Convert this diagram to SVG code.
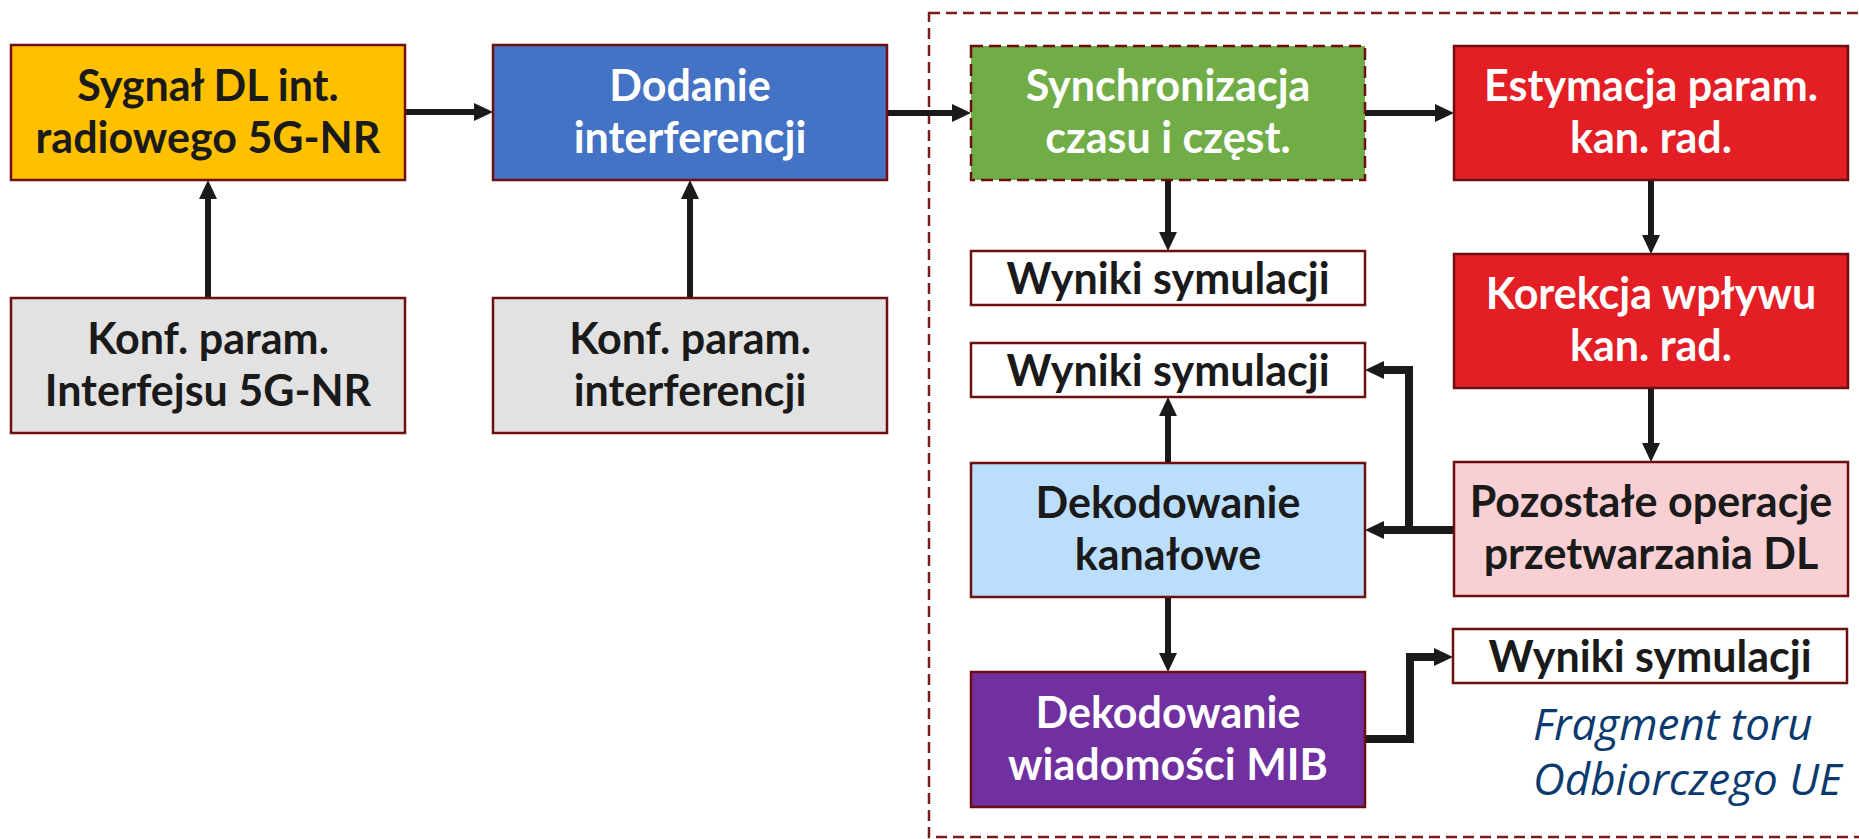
<svg xmlns="http://www.w3.org/2000/svg" width="1859" height="839" viewBox="0 0 1859 839">
<style>
.box{stroke:#6e0f0f;stroke-width:2.5}
.t{font-family:Lato,"Open Sans","Liberation Sans",sans-serif;font-weight:bold;font-size:43px;text-anchor:middle}
.dk{fill:#1a1a1a}
.wh{fill:#ffffff}
.ln{fill:none;stroke:#1a1a1a;stroke-width:6}
.lnb{fill:none;stroke:#1a1a1a;stroke-width:8}
.frag{font-family:"Open Sans",Lato,"Liberation Sans",sans-serif;font-style:italic;font-size:44px;fill:#0b3a6e}
</style>
<defs>
<marker id="ah" markerUnits="userSpaceOnUse" markerWidth="20" markerHeight="20" refX="0" refY="10" orient="auto" viewBox="0 0 20 20">
<path d="M0,1 L19,10 L0,19 Z" fill="#1a1a1a"/>
</marker>
</defs>
<rect x="929" y="13" width="940" height="824" fill="none" stroke="#7a1c1c" stroke-width="2.5" stroke-dasharray="11,6"/>
<g id="connectors">
<path class="ln" d="M405,112 H474" marker-end="url(#ah)"/>
<path class="ln" d="M887,113 H952" marker-end="url(#ah)"/>
<path class="ln" d="M1365,113 H1435" marker-end="url(#ah)"/>
<path class="ln" d="M208,298 V199" marker-end="url(#ah)"/>
<path class="ln" d="M690,298 V199" marker-end="url(#ah)"/>
<path class="ln" d="M1168,180 V232" marker-end="url(#ah)"/>
<path class="ln" d="M1651,180 V235" marker-end="url(#ah)"/>
<path class="ln" d="M1651,388 V443" marker-end="url(#ah)"/>
<path class="ln" d="M1168,463 V416" marker-end="url(#ah)"/>
<path class="ln" d="M1168,597 V653" marker-end="url(#ah)"/>
<path class="lnb" d="M1454,530 H1384" marker-end="url(#ah)"/>
<path class="lnb" d="M1409,530 V370 H1384" marker-end="url(#ah)"/>
<path class="lnb" d="M1365,739 H1410 V657 H1434" marker-end="url(#ah)"/>
</g>
<g id="n-sygnal"><rect class="box" x="11" y="45" width="394" height="135" fill="#ffc000"/><text class="t dk" x="208" y="101">Sygnał DL int.</text><text class="t dk" x="208" y="153">radiowego 5G-NR</text></g>
<g id="n-dodanie"><rect class="box" x="493" y="45" width="394" height="135" fill="#4472c4"/><text class="t wh" x="690" y="101">Dodanie</text><text class="t wh" x="690" y="153">interferencji</text></g>
<g id="n-konf1"><rect class="box" x="11" y="298" width="394" height="135" fill="#e2e2e2"/><text class="t dk" x="208" y="354">Konf. param.</text><text class="t dk" x="208" y="406">Interfejsu 5G-NR</text></g>
<g id="n-konf2"><rect class="box" x="493" y="298" width="394" height="135" fill="#e2e2e2"/><text class="t dk" x="690" y="354">Konf. param.</text><text class="t dk" x="690" y="406">interferencji</text></g>
<g id="n-sync"><rect class="box" x="971" y="46" width="394" height="134" fill="#70ad47" stroke-dasharray="12,6"/><text class="t wh" x="1168" y="101">Synchronizacja</text><text class="t wh" x="1168" y="153">czasu i częst.</text></g>
<g id="n-estym"><rect class="box" x="1454" y="46" width="394" height="134" fill="#e31e25"/><text class="t wh" x="1651" y="101">Estymacja param.</text><text class="t wh" x="1651" y="153">kan. rad.</text></g>
<g id="n-wyn1"><rect class="box" x="971" y="251" width="394" height="54" fill="#ffffff"/><text class="t dk" x="1168" y="294">Wyniki symulacji</text></g>
<g id="n-korek"><rect class="box" x="1454" y="254" width="394" height="134" fill="#e31e25"/><text class="t wh" x="1651" y="309">Korekcja wpływu</text><text class="t wh" x="1651" y="361">kan. rad.</text></g>
<g id="n-wyn2"><rect class="box" x="971" y="343" width="394" height="54" fill="#ffffff"/><text class="t dk" x="1168" y="386">Wyniki symulacji</text></g>
<g id="n-kanal"><rect class="box" x="971" y="463" width="394" height="134" fill="#bbdefd"/><text class="t dk" x="1168" y="518">Dekodowanie</text><text class="t dk" x="1168" y="570">kanałowe</text></g>
<g id="n-pozost"><rect class="box" x="1454" y="462" width="394" height="134" fill="#f8d0d3"/><text class="t dk" x="1651" y="517">Pozostałe operacje</text><text class="t dk" x="1651" y="569">przetwarzania DL</text></g>
<g id="n-mib"><rect class="box" x="971" y="672" width="394" height="135" fill="#7030a0"/><text class="t wh" x="1168" y="728">Dekodowanie</text><text class="t wh" x="1168" y="780">wiadomości MIB</text></g>
<g id="n-wyn3"><rect class="box" x="1453" y="629" width="394" height="54" fill="#ffffff"/><text class="t dk" x="1650" y="672">Wyniki symulacji</text></g>
<g id="label"><text class="frag" x="1533" y="740">Fragment toru</text><text class="frag" x="1533" y="795">Odbiorczego UE</text></g>
</svg>
